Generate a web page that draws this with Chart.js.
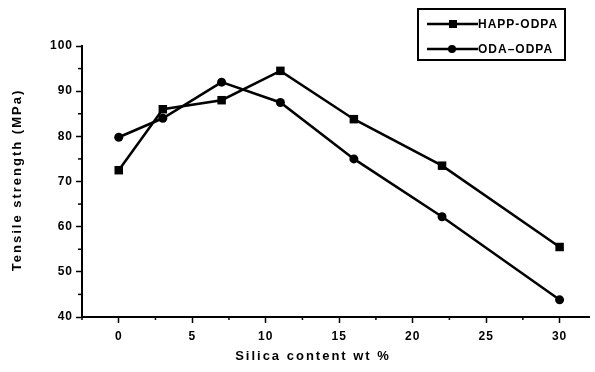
<!DOCTYPE html>
<html lang="en">
<head>
    <meta charset="UTF-8">
    <title>Tensile strength vs silica content</title>
    <script src="https://cdn.jsdelivr.net/npm/chart.js@4.4.1/dist/chart.umd.min.js"></script>
    <style>
        html, body { margin: 0; padding: 0; background: #fff; }
        #wrap { width: 595px; height: 372px; position: relative; }
    </style>
</head>
<body>
    <div id="wrap"><canvas id="grafico" width="595" height="372"></canvas></div>

    <script>
        // datos
        const silica = [0, 3, 7, 11, 16, 22, 30];
        const happOdpa = [72.5, 86, 88, 94.5, 83.8, 73.5, 55.5];
        const odaOdpa = [79.8, 84, 92, 87.5, 75, 62.2, 43.8];
        const xTicks = [0, 5, 10, 15, 20, 25, 30];
        const yTicks = [40, 50, 60, 70, 80, 90, 100];
        const seriesNames = ['HAPP-ODPA', 'ODA\u2013ODPA'];

        const FONT = "'Liberation Sans', Arial, sans-serif";

        // espaciado de letras para las etiquetas de los ejes
        const spacing = {
            id: 'spacing',
            beforeDraw(chart) { chart.ctx.letterSpacing = '1px'; }
        };

        // ticks menores, titulos de ejes y leyenda
        const extras = {
            id: 'extras',
            afterDraw(chart) {
                const ctx = chart.ctx;
                const xs = chart.scales.x, ys = chart.scales.y;
                const area = chart.chartArea;
                ctx.save();
                ctx.strokeStyle = '#000';
                ctx.lineWidth = 1.5;
                // minor ticks x
                for (let v = -2.5; v <= 32; v += 2.5) {
                    if (v % 5 === 0) continue;
                    const px = xs.getPixelForValue(v);
                    ctx.beginPath();
                    ctx.moveTo(px, area.bottom);
                    ctx.lineTo(px, area.bottom + 3);
                    ctx.stroke();
                }
                // minor ticks y
                for (let v = 45; v < 100; v += 10) {
                    const py = ys.getPixelForValue(v);
                    ctx.beginPath();
                    ctx.moveTo(area.left, py);
                    ctx.lineTo(area.left - 4, py);
                    ctx.stroke();
                }

                // titulos
                ctx.fillStyle = '#000';
                ctx.font = 'bold 13px ' + FONT;
                ctx.letterSpacing = '2px';
                ctx.textAlign = 'center';
                ctx.textBaseline = 'middle';
                ctx.fillText('Silica content wt %', 313, 356);
                ctx.save();
                ctx.translate(17, 180);
                ctx.rotate(-Math.PI / 2);
                ctx.fillText('Tensile strength (MPa)', 0, 0);
                ctx.restore();

                // leyenda
                ctx.letterSpacing = '1px';
                ctx.lineWidth = 2;
                ctx.strokeRect(418, 9, 147, 51);
                ctx.font = 'bold 12px ' + FONT;
                ctx.textAlign = 'left';
                const rows = [24, 49];
                rows.forEach((y, i) => {
                    ctx.lineWidth = 2.5;
                    ctx.beginPath();
                    ctx.moveTo(427, y);
                    ctx.lineTo(478, y);
                    ctx.stroke();
                    if (i === 0) {
                        ctx.fillRect(449, y - 4, 8, 8);
                    } else {
                        ctx.beginPath();
                        ctx.arc(452, y, 4, 0, Math.PI * 2);
                        ctx.fill();
                    }
                    ctx.fillText(seriesNames[i], 478, y + 1);
                });
                ctx.restore();
            }
        };

        new Chart(document.getElementById('grafico'), {
            type: 'scatter',
            data: {
                datasets: [
                    {
                        label: seriesNames[0],
                        data: silica.map((x, i) => ({ x: x, y: happOdpa[i] })),
                        showLine: true,
                        borderColor: '#000',
                        backgroundColor: '#000',
                        borderWidth: 2.5,
                        pointStyle: 'rect',
                        pointRadius: 6,
                        pointBorderWidth: 0,
                        tension: 0
                    },
                    {
                        label: seriesNames[1],
                        data: silica.map((x, i) => ({ x: x, y: odaOdpa[i] })),
                        showLine: true,
                        borderColor: '#000',
                        backgroundColor: '#000',
                        borderWidth: 2.5,
                        pointStyle: 'circle',
                        pointRadius: 4.5,
                        pointBorderWidth: 0,
                        tension: 0
                    }
                ]
            },
            options: {
                responsive: false,
                animation: false,
                layout: { padding: { top: 46, right: 2, left: 0, bottom: 0 } },
                plugins: {
                    legend: { display: false },
                    tooltip: { enabled: false }
                },
                scales: {
                    x: {
                        type: 'linear',
                        min: -2.5,
                        max: 32,
                        afterBuildTicks: s => { s.ticks = xTicks.map(v => ({ value: v })); },
                        afterFit: s => { s.height = 55; },
                        ticks: {
                            color: '#000',
                            font: { family: FONT, size: 12, weight: 'bold' },
                            padding: 6,
                            maxRotation: 0
                        },
                        grid: {
                            drawOnChartArea: false,
                            tickLength: 6,
                            tickWidth: 1.5,
                            tickColor: '#000'
                        },
                        border: { color: '#000', width: 2 }
                    },
                    y: {
                        min: 40,
                        max: 100,
                        afterBuildTicks: s => { s.ticks = yTicks.map(v => ({ value: v })); },
                        afterFit: s => { s.width = 82; },
                        ticks: {
                            color: '#000',
                            font: { family: FONT, size: 12, weight: 'bold' },
                            padding: 3
                        },
                        grid: {
                            drawOnChartArea: false,
                            tickLength: 6,
                            tickWidth: 1.5,
                            tickColor: '#000'
                        },
                        border: { color: '#000', width: 2 }
                    }
                }
            },
            plugins: [spacing, extras]
        });
    </script>
</body>
</html>
